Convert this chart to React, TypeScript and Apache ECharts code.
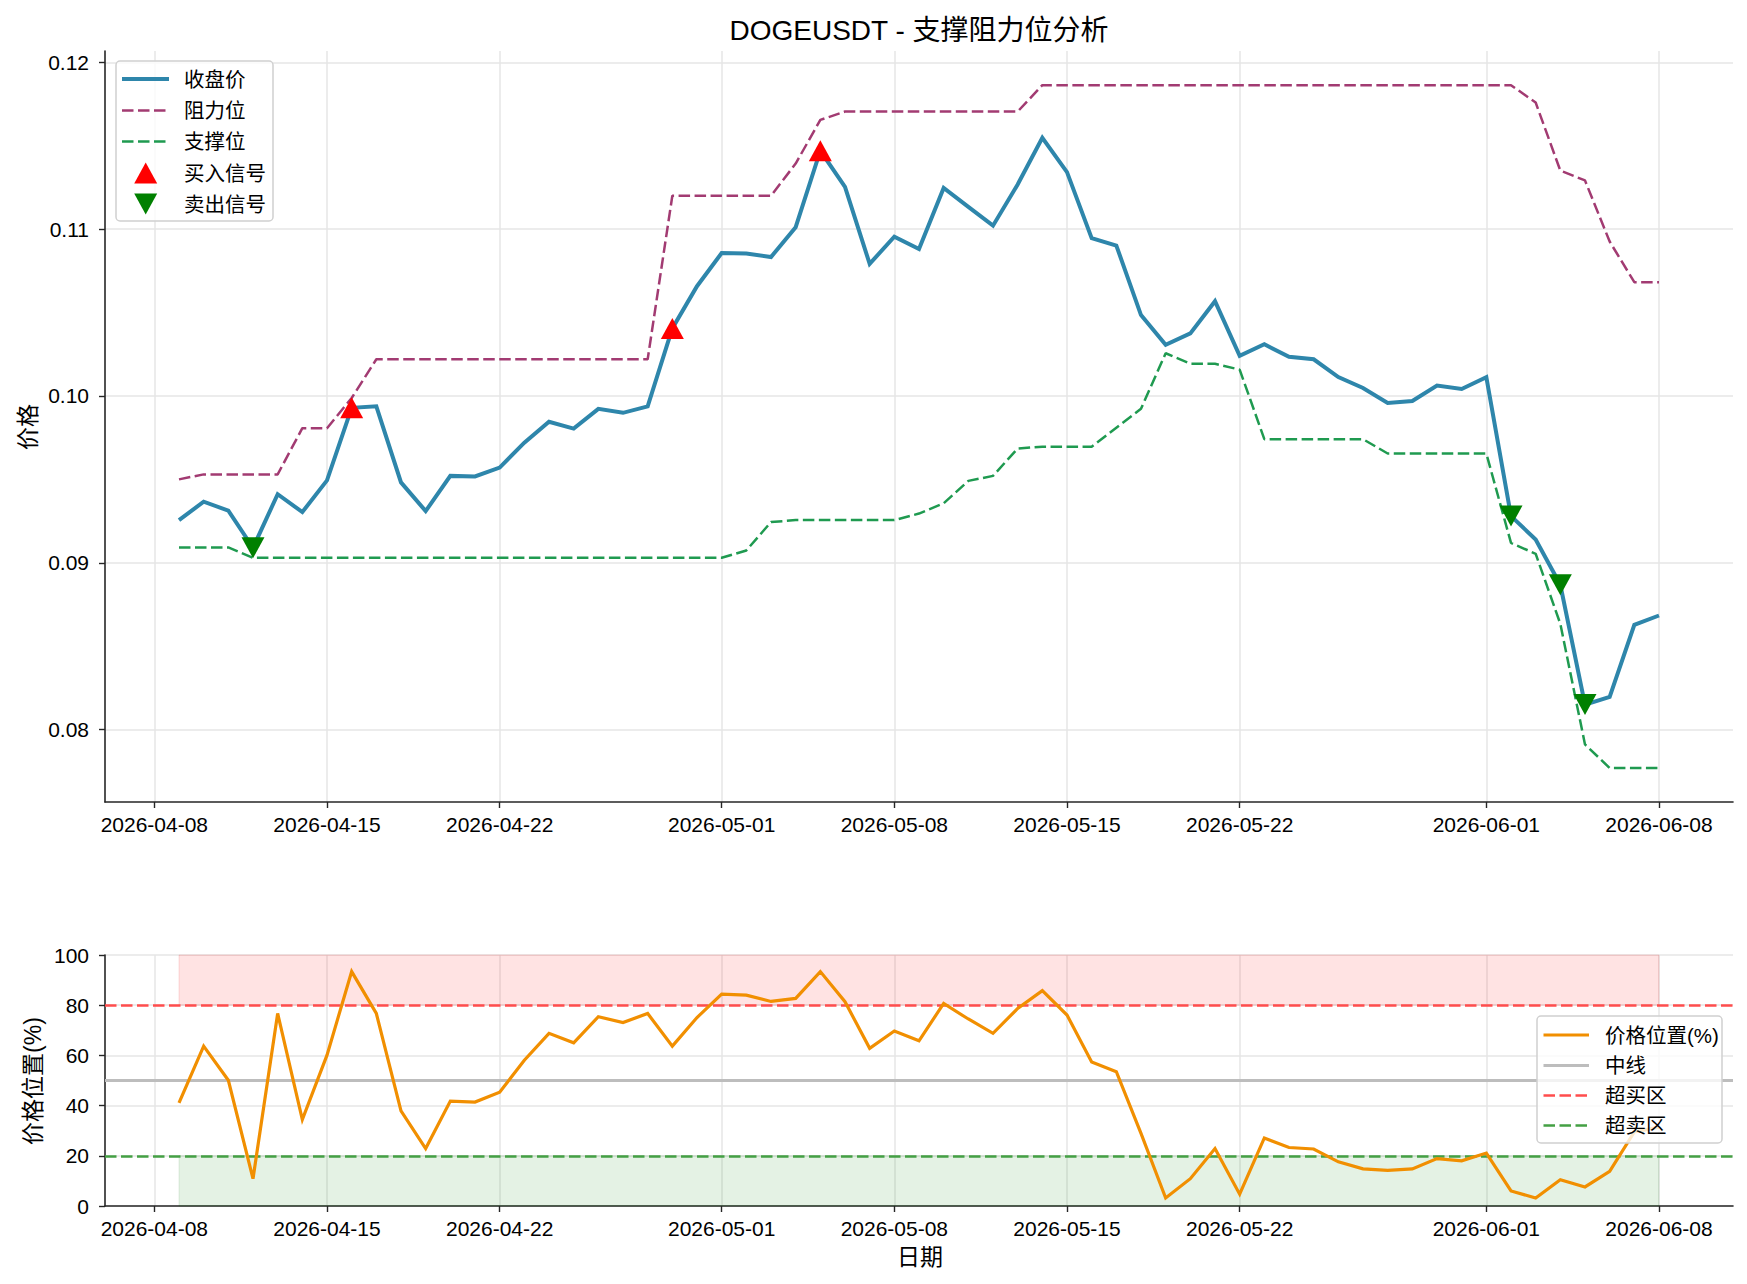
import React, { useEffect, useRef } from "react";
import * as echarts from "echarts";

// ---------- DATA ----------
const firstDate = "2026-04-09";
const dayCount = 61;
const dates: string[] = (() => {
  const out: string[] = [];
  const t0 = Date.parse(firstDate);
  for (let i = 0; i < dayCount; i++) out.push(new Date(t0 + i * 86400000).toISOString().slice(0, 10));
  return out;
})();

const closePrice = [
  0.09256, 0.09366, 0.09313, 0.0909, 0.09411, 0.09304, 0.09494, 0.09929, 0.09938, 0.09482,
  0.0931, 0.09521, 0.09518, 0.09571, 0.0972, 0.09845, 0.09804, 0.09923, 0.09899, 0.09938,
  0.10405, 0.10658, 0.10857, 0.10854, 0.10833, 0.11012, 0.1147, 0.11253, 0.10792, 0.10955,
  0.10881, 0.11247, 0.11134, 0.11021, 0.11268, 0.11548, 0.11342, 0.10946, 0.10902, 0.10485,
  0.10307, 0.10375, 0.10568, 0.10241, 0.1031, 0.10235, 0.1022, 0.10113, 0.10048, 0.09958,
  0.0997, 0.10063, 0.10042, 0.10113, 0.0928, 0.0914, 0.08868, 0.0815, 0.08196, 0.08628,
  0.08684,
];

const resistance = [
  0.095, 0.0953, 0.0953, 0.0953, 0.0953, 0.09807, 0.09807, 0.09988, 0.1022, 0.1022,
  0.1022, 0.1022, 0.1022, 0.1022, 0.1022, 0.1022, 0.1022, 0.1022, 0.1022, 0.1022,
  0.112, 0.112, 0.112, 0.112, 0.112, 0.11393, 0.11655, 0.11705, 0.11705, 0.11705,
  0.11705, 0.11705, 0.11705, 0.11705, 0.11705, 0.11863, 0.11863, 0.11863, 0.11863, 0.11863,
  0.11863, 0.11863, 0.11863, 0.11863, 0.11863, 0.11863, 0.11863, 0.11863, 0.11863, 0.11863,
  0.11863, 0.11863, 0.11863, 0.11863, 0.11863, 0.11759, 0.11351, 0.11292, 0.10926, 0.10682,
  0.10682,
];

const support = [
  0.09092, 0.09092, 0.09092, 0.0903, 0.0903, 0.0903, 0.0903, 0.0903, 0.0903, 0.0903,
  0.0903, 0.0903, 0.0903, 0.0903, 0.0903, 0.0903, 0.0903, 0.0903, 0.0903, 0.0903,
  0.0903, 0.0903, 0.0903, 0.09074, 0.09244, 0.09256, 0.09256, 0.09256, 0.09256, 0.09256,
  0.09295, 0.09357, 0.09491, 0.09521, 0.09685, 0.09696, 0.09696, 0.09696, 0.0981, 0.09923,
  0.10256, 0.10193, 0.10193, 0.10158, 0.09741, 0.09741, 0.09741, 0.09741, 0.09741, 0.09655,
  0.09655, 0.09655, 0.09655, 0.09655, 0.09119, 0.09054, 0.08634, 0.07911, 0.0777, 0.0777,
  0.0777,
];

const pricePosition = [
  41.1, 63.7, 50.1, 10.9, 76.7, 34.4, 60.1, 93.4, 76.7, 37.9,
  22.9, 41.8, 41.4, 45.3, 58.1, 68.8, 65.0, 75.4, 73.1, 76.7,
  63.7, 75.1, 84.4, 84.0, 81.5, 82.7, 93.4, 81.4, 62.8, 69.7,
  65.8, 80.7, 74.5, 68.8, 78.7, 85.8, 76.1, 57.4, 53.5, 28.9,
  3.2, 10.9, 22.9, 4.7, 27.1, 23.3, 22.7, 17.6, 14.8, 14.2,
  14.8, 18.9, 18.0, 21.1, 6.0, 3.2, 10.5, 7.6, 13.8, 29.5,
  31.4,
];

const buyDates = ["2026-04-16", "2026-04-29", "2026-05-05"];
const sellDates = ["2026-04-12", "2026-06-02", "2026-06-04", "2026-06-05"];

const xTickDates = [
  "2026-04-08", "2026-04-15", "2026-04-22", "2026-05-01", "2026-05-08",
  "2026-05-15", "2026-05-22", "2026-06-01", "2026-06-08",
];
const priceTicks = [0.08, 0.09, 0.1, 0.11, 0.12];
const positionTicks = [0, 20, 40, 60, 80, 100];
const overbought = 80;
const oversold = 20;
const midline = 50;

// ---------- HELPERS ----------
const origin = Date.parse("2026-04-08");
const dayIdx = (s: string) => Math.round((Date.parse(s) - origin) / 86400000);
const idxToDate = (v: number) => new Date(origin + Math.round(v) * 86400000).toISOString().slice(0, 10);

const FONT = "'Liberation Sans', 'Noto Sans CJK SC', sans-serif";
const C_CLOSE = "#2E86AB";
const C_RES = "#A23B72";
const C_SUP = "#1F9A50";
const C_POS = "#F18F01";
const C_MID = "#BDBDBD";
const C_OB = "#FF4D4D";
const C_OS = "#44A044";
const DASH = [11.5, 4.5];
const AXIS_COLOR = "#262626";
const GRID_COLOR = "#E6E6E6";

const xTickVals = xTickDates.map(dayIdx);

function makeXAxis(gridIndex: number) {
  return {
    type: "value",
    gridIndex,
    min: -2,
    max: 64,
    axisLine: { show: true, onZero: false, lineStyle: { color: AXIS_COLOR, width: 1.6 } },
    axisTick: { show: true, customValues: xTickVals, length: 6, lineStyle: { color: AXIS_COLOR, width: 1.4 } },
    axisLabel: {
      customValues: xTickVals,
      formatter: (v: number) => idxToDate(v),
      fontSize: 21,
      color: "#000",
      margin: 12,
      fontFamily: FONT,
    },
    splitLine: { show: true, lineStyle: { color: GRID_COLOR, width: 1.5 } },
  };
}

function lineEl(x1: number, x2: number, y: number, color: string, width: number, dash?: number[]) {
  return {
    type: "line",
    z: 100,
    shape: { x1, y1: y, x2, y2: y },
    style: { stroke: color, lineWidth: width, lineDash: dash },
  };
}
function textEl(x: number, y: number, text: string, size: number, extra: any = {}) {
  return {
    type: "text",
    z: 100,
    x,
    y,
    ...extra,
    style: { text, fill: "#000", fontSize: size, fontFamily: FONT, align: extra.align || "left", verticalAlign: "middle" },
  };
}
function triangleEl(cx: number, cy: number, w: number, h: number, color: string, down: boolean) {
  const pts = down
    ? [[cx - w / 2, cy - h / 2], [cx + w / 2, cy - h / 2], [cx, cy + h / 2]]
    : [[cx - w / 2, cy + h / 2], [cx + w / 2, cy + h / 2], [cx, cy - h / 2]];
  return { type: "polygon", z: 100, shape: { points: pts }, style: { fill: color } };
}

export default function App() {
  const ref = useRef<HTMLDivElement>(null);

  useEffect(() => {
    document.body.style.margin = "0";
    if (!ref.current) return;
    const chart = echarts.init(ref.current, undefined, { renderer: "svg" });

    const closeData = dates.map((d, i) => [dayIdx(d), closePrice[i]]);
    const resData = dates.map((d, i) => [dayIdx(d), resistance[i]]);
    const supData = dates.map((d, i) => [dayIdx(d), support[i]]);
    const posData = dates.map((d, i) => [dayIdx(d), pricePosition[i]]);
    const buyData = buyDates.map((d) => [dayIdx(d), closePrice[dates.indexOf(d)]]);
    const sellData = sellDates.map((d) => [dayIdx(d), closePrice[dates.indexOf(d)]]);
    const firstX = dayIdx(dates[0]);
    const lastX = dayIdx(dates[dates.length - 1]);

    // legends
    const topLegendY = [79, 110.5, 141.5, 173, 204];
    const botLegendY = [1035, 1065.5, 1095.5, 1125.5];
    const graphic: any[] = [
      textEl(919, 30, "DOGEUSDT - 支撑阻力位分析", 28, { align: "center" }),
      textEl(28, 427, "价格", 23, { align: "center", rotation: Math.PI / 2 }),
      textEl(33, 1081, "价格位置(%)", 23, { align: "center", rotation: Math.PI / 2 }),
      textEl(920, 1257, "日期", 23, { align: "center" }),
      {
        type: "rect",
        z: 99,
        shape: { x: 116, y: 61, width: 157, height: 160, r: 4 },
        style: { fill: "rgba(255,255,255,0.8)", stroke: "#D0D0D0", lineWidth: 1.5 },
      },
      lineEl(122, 169, topLegendY[0], C_CLOSE, 4),
      lineEl(122, 169, topLegendY[1], C_RES, 2.5, DASH),
      lineEl(122, 169, topLegendY[2], C_SUP, 2.5, DASH),
      triangleEl(145.7, topLegendY[3], 23, 21, "#FF0000", false),
      triangleEl(145.7, topLegendY[4], 23, 21, "#008000", true),
      textEl(184, topLegendY[0], "收盘价", 20.5),
      textEl(184, topLegendY[1], "阻力位", 20.5),
      textEl(184, topLegendY[2], "支撑位", 20.5),
      textEl(184, topLegendY[3], "买入信号", 20.5),
      textEl(184, topLegendY[4], "卖出信号", 20.5),
      {
        type: "rect",
        z: 99,
        shape: { x: 1537, y: 1016, width: 185, height: 127, r: 4 },
        style: { fill: "rgba(255,255,255,0.8)", stroke: "#D0D0D0", lineWidth: 1.5 },
      },
      lineEl(1543.5, 1589, botLegendY[0], C_POS, 3.2),
      lineEl(1543.5, 1589, botLegendY[1], C_MID, 3),
      lineEl(1543.5, 1589, botLegendY[2], C_OB, 2.5, DASH),
      lineEl(1543.5, 1589, botLegendY[3], C_OS, 2.5, DASH),
      textEl(1605, botLegendY[0], "价格位置(%)", 20.5),
      textEl(1605, botLegendY[1], "中线", 20.5),
      textEl(1605, botLegendY[2], "超买区", 20.5),
      textEl(1605, botLegendY[3], "超卖区", 20.5),
    ];

    const yAxisLine = { show: true, onZero: false, lineStyle: { color: AXIS_COLOR, width: 1.6 } };

    const option: any = {
      animation: false,
      backgroundColor: "#FFFFFF",
      textStyle: { fontFamily: FONT },
      grid: [
        { left: 105, top: 51, width: 1628, height: 751, containLabel: false },
        { left: 105, top: 955, width: 1628, height: 251, containLabel: false },
      ],
      xAxis: [makeXAxis(0), makeXAxis(1)],
      yAxis: [
        {
          type: "value",
          gridIndex: 0,
          min: 0.07566,
          max: 0.12068,
          axisLine: yAxisLine,
          axisTick: { show: true, customValues: priceTicks, length: 6, lineStyle: { color: AXIS_COLOR, width: 1.4 } },
          axisLabel: {
            customValues: priceTicks,
            formatter: (v: number) => v.toFixed(2),
            fontSize: 21,
            color: "#000",
            margin: 16,
            fontFamily: FONT,
          },
          splitLine: { show: true, lineStyle: { color: GRID_COLOR, width: 1.5 } },
        },
        {
          type: "value",
          gridIndex: 1,
          min: 0,
          max: 100,
          interval: 20,
          axisLine: yAxisLine,
          axisTick: { show: true, length: 6, lineStyle: { color: AXIS_COLOR, width: 1.4 } },
          axisLabel: {
            customValues: positionTicks,
            fontSize: 21,
            color: "#000",
            margin: 16,
            fontFamily: FONT,
          },
          splitLine: { show: true, lineStyle: { color: GRID_COLOR, width: 1.5 } },
        },
      ],
      graphic,
      series: [
        {
          name: "阻力位",
          type: "line",
          xAxisIndex: 0,
          yAxisIndex: 0,
          data: resData,
          symbol: "none",
          z: 3,
          lineStyle: { color: C_RES, width: 2.5, type: DASH },
        },
        {
          name: "支撑位",
          type: "line",
          xAxisIndex: 0,
          yAxisIndex: 0,
          data: supData,
          symbol: "none",
          z: 3,
          lineStyle: { color: C_SUP, width: 2.5, type: DASH },
        },
        {
          name: "收盘价",
          type: "line",
          xAxisIndex: 0,
          yAxisIndex: 0,
          data: closeData,
          symbol: "none",
          z: 4,
          lineStyle: { color: C_CLOSE, width: 4, join: "miter" },
        },
        {
          name: "买入信号",
          type: "scatter",
          xAxisIndex: 0,
          yAxisIndex: 0,
          data: buyData,
          symbol: "triangle",
          symbolSize: [23, 21],
          z: 10,
          itemStyle: { color: "#FF0000", opacity: 1 },
        },
        {
          name: "卖出信号",
          type: "scatter",
          xAxisIndex: 0,
          yAxisIndex: 0,
          data: sellData,
          symbol: "triangle",
          symbolRotate: 180,
          symbolSize: [23, 21],
          z: 10,
          itemStyle: { color: "#008000", opacity: 1 },
        },
        {
          name: "zones",
          type: "line",
          xAxisIndex: 1,
          yAxisIndex: 1,
          data: [],
          z: 1,
          silent: true,
          markArea: {
            silent: true,
            data: [
              [
                { xAxis: firstX, yAxis: overbought, itemStyle: { color: "rgba(255,0,0,0.11)", borderColor: "rgba(220,0,0,0.12)", borderWidth: 1 } },
                { xAxis: lastX, yAxis: 100 },
              ],
              [
                { xAxis: firstX, yAxis: 0, itemStyle: { color: "rgba(0,128,0,0.105)", borderColor: "rgba(0,110,0,0.1)", borderWidth: 1 } },
                { xAxis: lastX, yAxis: oversold },
              ],
            ],
          },
          markLine: {
            silent: true,
            symbol: ["none", "none"],
            label: { show: false },
            data: [
              { yAxis: midline, lineStyle: { color: C_MID, width: 3, type: "solid" } },
              { yAxis: overbought, lineStyle: { color: C_OB, width: 2.5, type: DASH } },
              { yAxis: oversold, lineStyle: { color: C_OS, width: 2.5, type: DASH } },
            ],
          },
        },
        {
          name: "价格位置(%)",
          type: "line",
          xAxisIndex: 1,
          yAxisIndex: 1,
          data: posData,
          symbol: "none",
          z: 10,
          lineStyle: { color: C_POS, width: 3.2, join: "miter" },
        },
      ],
    };

    chart.setOption(option);
    return () => chart.dispose();
  }, []);

  return <div ref={ref} style={{ width: 1747, height: 1284 }} />;
}
